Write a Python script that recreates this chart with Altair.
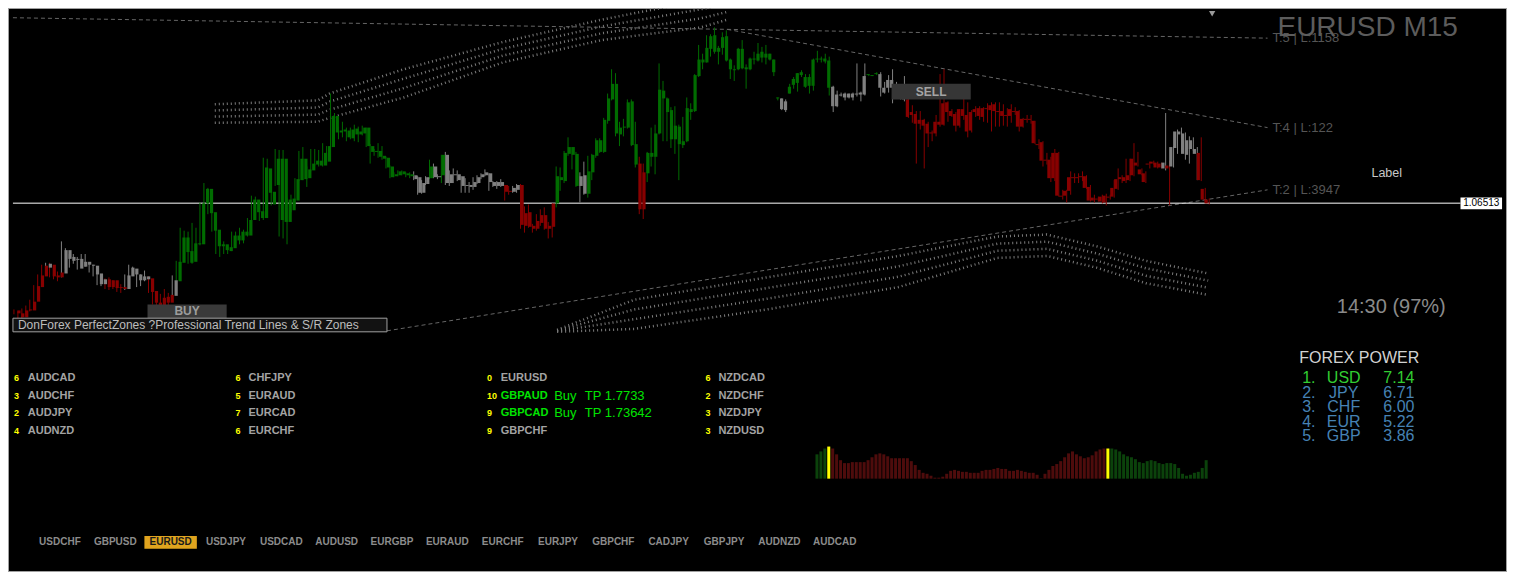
import altair as alt
import pandas as pd

W, H = 1499, 564
SX, SY = W / 1515.0, H / 580.0


def px(x):
    return x * SX


def py(y):
    return y * SY


SYMBOL = "EURUSD"
TIMEFRAME = "M15"
BID = 1.06513

# ---------------- candles (prices in units of 0.0001) ----------------
open_pips = [
    10541, 10538, 10541, 10542, 10550, 10566, 10577, 10587, 10589, 10588,
    10577, 10580, 10603, 10603, 10596, 10594, 10594, 10591, 10591, 10588,
    10587, 10579, 10573, 10573, 10572, 10572, 10565, 10565, 10577, 10585,
    10584, 10578, 10576, 10576, 10574, 10561, 10549, 10554, 10555, 10557,
    10572, 10571, 10590, 10601, 10590, 10591, 10609, 10609, 10651, 10666,
    10642, 10624, 10609, 10609, 10602, 10605, 10613, 10613, 10618, 10618,
    10634, 10655, 10643, 10636, 10687, 10663, 10670, 10697, 10632, 10655,
    10644, 10654, 10675, 10697, 10677, 10685, 10691, 10695, 10690, 10694,
    10709, 10741, 10724, 10725, 10726, 10718, 10722, 10725, 10723, 10729,
    10710, 10705, 10705, 10700, 10698, 10689, 10681, 10680, 10684, 10682,
    10681, 10680, 10678, 10662, 10671, 10677, 10689, 10679, 10680, 10701,
    10672, 10681, 10681, 10679, 10670, 10670, 10668, 10672, 10678, 10680,
    10682, 10673, 10669, 10673, 10670, 10664, 10663, 10665, 10670, 10641,
    10627, 10628, 10625, 10631, 10639, 10628, 10627, 10651, 10678, 10674,
    10702, 10709, 10702, 10669, 10680, 10661, 10683, 10700, 10716, 10704,
    10736, 10758, 10774, 10722, 10729, 10729, 10756, 10712, 10692, 10645,
    10682, 10703, 10699, 10723, 10767, 10759, 10747, 10717, 10730, 10711,
    10715, 10748, 10746, 10782, 10799, 10796, 10810, 10824, 10807, 10811,
    10823, 10799, 10789, 10789, 10810, 10791, 10789, 10800, 10798, 10801,
    10805, 10799, 10799, 10759, 10759, 10747, 10764, 10773, 10775, 10783,
    10781, 10772, 10772, 10799, 10800, 10797, 10798, 10771, 10751, 10763,
    10760, 10764, 10760, 10764, 10763, 10763, 10783, 10783, 10784, 10784,
    10770, 10770, 10778, 10772, 10768, 10766, 10758, 10745, 10743, 10737,
    10737, 10733, 10724, 10723, 10735, 10732, 10755, 10746, 10743, 10731,
    10748, 10742, 10726, 10745, 10749, 10740, 10749, 10747, 10753, 10746,
    10746, 10742, 10741, 10746, 10746, 10730, 10738, 10738, 10736, 10712,
    10714, 10696, 10696, 10677, 10703, 10659, 10659, 10664, 10678, 10678,
    10679, 10679, 10668, 10654, 10656, 10658, 10652, 10658, 10658, 10666,
    10676, 10678, 10675, 10680, 10693, 10686, 10682, 10692, 10692, 10693,
    10688, 10687, 10690, 10689, 10708, 10725, 10723, 10701, 10716, 10707,
    10703, 10666, 10655]

high_pips = [
    10542, 10540, 10543, 10546, 10552, 10567, 10578, 10588, 10590, 10590,
    10582, 10581, 10612, 10605, 10599, 10599, 10596, 10599, 10599, 10590,
    10588, 10585, 10575, 10574, 10575, 10572, 10567, 10568, 10578, 10588,
    10586, 10581, 10578, 10582, 10576, 10562, 10553, 10558, 10563, 10559,
    10577, 10592, 10626, 10623, 10622, 10631, 10626, 10652, 10672, 10667,
    10647, 10625, 10609, 10612, 10608, 10622, 10622, 10626, 10624, 10636,
    10659, 10658, 10648, 10698, 10697, 10670, 10707, 10706, 10706, 10657,
    10660, 10677, 10705, 10709, 10689, 10707, 10707, 10706, 10713, 10710,
    10764, 10744, 10730, 10735, 10729, 10729, 10732, 10730, 10731, 10729,
    10712, 10707, 10713, 10710, 10699, 10690, 10683, 10685, 10685, 10683,
    10683, 10684, 10679, 10675, 10679, 10696, 10692, 10681, 10701, 10704,
    10685, 10687, 10685, 10679, 10677, 10673, 10678, 10680, 10682, 10686,
    10682, 10674, 10674, 10676, 10670, 10669, 10669, 10671, 10671, 10648,
    10650, 10630, 10640, 10645, 10647, 10632, 10651, 10689, 10688, 10705,
    10719, 10709, 10704, 10683, 10694, 10700, 10702, 10718, 10718, 10739,
    10764, 10789, 10785, 10735, 10738, 10758, 10758, 10735, 10699, 10692,
    10704, 10729, 10732, 10795, 10777, 10760, 10750, 10751, 10732, 10740,
    10760, 10754, 10784, 10814, 10805, 10824, 10825, 10832, 10813, 10827,
    10829, 10800, 10793, 10811, 10819, 10794, 10801, 10807, 10816, 10812,
    10814, 10805, 10799, 10760, 10759, 10758, 10774, 10781, 10785, 10788,
    10784, 10784, 10800, 10808, 10802, 10805, 10802, 10772, 10767, 10765,
    10765, 10764, 10765, 10795, 10766, 10795, 10784, 10783, 10786, 10786,
    10776, 10783, 10789, 10776, 10772, 10782, 10762, 10752, 10746, 10746,
    10738, 10735, 10726, 10742, 10784, 10789, 10756, 10748, 10745, 10748,
    10759, 10755, 10747, 10751, 10751, 10750, 10754, 10755, 10755, 10755,
    10753, 10749, 10753, 10750, 10747, 10739, 10742, 10742, 10736, 10717,
    10715, 10703, 10699, 10707, 10704, 10665, 10665, 10684, 10682, 10682,
    10684, 10680, 10670, 10660, 10658, 10660, 10661, 10660, 10675, 10687,
    10680, 10697, 10697, 10713, 10704, 10687, 10684, 10694, 10695, 10694,
    10693, 10744, 10695, 10710, 10727, 10729, 10724, 10720, 10719, 10709,
    10719, 10667, 10656]

low_pips = [
    10537, 10533, 10533, 10536, 10540, 10549, 10564, 10575, 10583, 10575,
    10573, 10571, 10575, 10584, 10585, 10589, 10583, 10585, 10586, 10580,
    10576, 10567, 10566, 10563, 10562, 10563, 10560, 10559, 10562, 10575,
    10577, 10565, 10566, 10571, 10559, 10547, 10545, 10545, 10548, 10546,
    10555, 10569, 10589, 10598, 10589, 10589, 10604, 10608, 10650, 10640,
    10622, 10599, 10596, 10599, 10599, 10602, 10607, 10609, 10610, 10617,
    10633, 10640, 10633, 10634, 10647, 10649, 10669, 10617, 10615, 10609,
    10642, 10649, 10674, 10675, 10668, 10684, 10690, 10689, 10689, 10693,
    10708, 10721, 10717, 10719, 10715, 10717, 10715, 10714, 10721, 10709,
    10692, 10700, 10698, 10696, 10687, 10677, 10678, 10679, 10680, 10678,
    10677, 10675, 10660, 10661, 10670, 10676, 10677, 10676, 10672, 10670,
    10669, 10672, 10674, 10662, 10662, 10662, 10665, 10671, 10676, 10679,
    10664, 10668, 10666, 10668, 10654, 10660, 10662, 10662, 10625, 10621,
    10626, 10621, 10623, 10628, 10624, 10615, 10616, 10647, 10664, 10672,
    10700, 10686, 10668, 10652, 10660, 10657, 10675, 10698, 10703, 10703,
    10733, 10757, 10720, 10710, 10720, 10728, 10710, 10688, 10640, 10635,
    10673, 10689, 10681, 10722, 10715, 10715, 10708, 10702, 10675, 10708,
    10714, 10737, 10745, 10781, 10789, 10796, 10802, 10805, 10794, 10804,
    10797, 10779, 10777, 10788, 10789, 10769, 10788, 10794, 10797, 10796,
    10794, 10798, 10782, 10757, 10747, 10745, 10764, 10769, 10766, 10781,
    10770, 10764, 10767, 10796, 10796, 10795, 10762, 10745, 10750, 10761,
    10757, 10759, 10757, 10761, 10756, 10762, 10782, 10782, 10783, 10761,
    10764, 10765, 10754, 10762, 10758, 10756, 10739, 10734, 10692, 10727,
    10687, 10709, 10715, 10720, 10730, 10731, 10735, 10740, 10725, 10729,
    10737, 10719, 10724, 10740, 10737, 10735, 10734, 10725, 10730, 10730,
    10731, 10730, 10734, 10742, 10725, 10729, 10734, 10733, 10712, 10707,
    10689, 10691, 10673, 10674, 10658, 10655, 10652, 10660, 10672, 10672,
    10674, 10666, 10653, 10652, 10653, 10651, 10649, 10655, 10657, 10665,
    10672, 10672, 10674, 10679, 10689, 10680, 10672, 10687, 10691, 10687,
    10687, 10685, 10649, 10688, 10702, 10718, 10696, 10692, 10705, 10675,
    10674, 10652, 10650]

close_pips = [
    10538, 10534, 10534, 10541, 10541, 10550, 10565, 10576, 10585, 10576,
    10575, 10575, 10579, 10594, 10592, 10593, 10584, 10586, 10588, 10587,
    10578, 10568, 10568, 10565, 10565, 10564, 10564, 10563, 10563, 10576,
    10578, 10572, 10572, 10573, 10560, 10549, 10546, 10546, 10549, 10549,
    10556, 10591, 10616, 10616, 10602, 10610, 10610, 10651, 10666, 10641,
    10623, 10607, 10607, 10603, 10606, 10618, 10618, 10622, 10622, 10634,
    10655, 10642, 10636, 10688, 10662, 10650, 10697, 10634, 10697, 10632,
    10656, 10676, 10697, 10676, 10686, 10692, 10695, 10690, 10703, 10710,
    10741, 10724, 10726, 10727, 10719, 10727, 10728, 10722, 10729, 10710,
    10704, 10704, 10699, 10697, 10688, 10678, 10679, 10684, 10681, 10680,
    10679, 10676, 10662, 10672, 10678, 10689, 10678, 10678, 10701, 10672,
    10681, 10680, 10675, 10669, 10669, 10668, 10673, 10678, 10681, 10683,
    10673, 10669, 10673, 10669, 10663, 10663, 10667, 10670, 10629, 10628,
    10642, 10625, 10633, 10639, 10625, 10625, 10651, 10679, 10675, 10703,
    10709, 10701, 10669, 10679, 10661, 10684, 10701, 10716, 10704, 10737,
    10759, 10774, 10723, 10729, 10730, 10755, 10711, 10691, 10645, 10683,
    10703, 10699, 10723, 10768, 10759, 10745, 10717, 10731, 10712, 10715,
    10749, 10745, 10783, 10799, 10796, 10811, 10823, 10807, 10811, 10822,
    10798, 10789, 10788, 10810, 10790, 10789, 10800, 10799, 10805, 10807,
    10801, 10805, 10786, 10760, 10748, 10756, 10771, 10779, 10785, 10786,
    10771, 10781, 10799, 10800, 10799, 10800, 10770, 10751, 10763, 10762,
    10764, 10760, 10764, 10763, 10765, 10782, 10784, 10782, 10785, 10770,
    10765, 10778, 10770, 10764, 10760, 10758, 10740, 10742, 10733, 10733,
    10731, 10723, 10723, 10735, 10732, 10754, 10745, 10741, 10731, 10748,
    10741, 10725, 10745, 10748, 10741, 10749, 10748, 10752, 10746, 10745,
    10741, 10741, 10748, 10745, 10730, 10738, 10737, 10737, 10713, 10711,
    10695, 10695, 10677, 10703, 10659, 10658, 10664, 10678, 10677, 10677,
    10678, 10667, 10654, 10657, 10655, 10653, 10659, 10657, 10667, 10676,
    10678, 10674, 10680, 10697, 10690, 10681, 10673, 10691, 10694, 10688,
    10692, 10693, 10687, 10709, 10725, 10722, 10702, 10716, 10707, 10702,
    10675, 10655, 10651]

# trend state of each candle: u = up (green), d = down (red), n = neutral (grey)
trend_runs = [("d", 8), ("n", 1), ("d", 3), ("n", 11), ("d", 5), ("n", 6), ("d", 6),
              ("n", 1), ("u", 60), ("n", 4), ("u", 1), ("n", 2), ("u", 1), ("n", 15),
              ("d", 2), ("n", 2), ("d", 9), ("u", 6), ("n", 2), ("u", 13), ("d", 2),
              ("u", 34), ("n", 2), ("u", 11), ("n", 9), ("u", 3), ("n", 7), ("d", 65),
              ("n", 1), ("d", 1), ("n", 7), ("d", 3)]

# ---------------- histogram indicator (last 100 bars) ----------------
hist_values = [25, 28, 31, 33, 31, 25, 19, 16, 16, 17,
               17, 17, 17, 19, 22, 25, 26, 25, 23, 21,
               21, 21, 21, 21, 18, 14, 9, 6, 5, 3,
               1, 1, 2, 5, 8, 9, 8, 7, 7, 6,
               6, 6, 8, 9, 9, 10, 11, 10, 10, 8,
               8, 9, 8, 7, 6, 6, 4, 0.5, 5, 9,
               13, 15, 18, 22, 26, 28, 25, 23, 21, 22,
               24, 28, 30, 31, 31, 31, 30, 28, 25, 23,
               22, 20, 17, 16, 18, 19, 18, 16, 15, 16,
               16, 15, 11, 5, 3, 4, 6, 7, 11, 19]
hist_runs = [("u", 3), ("y", 1), ("d", 70), ("y", 1), ("u", 25)]

# ---------------- zones and trend lines ----------------
upper_zone_i = [50.75, 76.75, 79.75, 98.5, 123.5, 148.5, 173.5, 180.25]
upper_zone_top = [1.0753, 1.0757, 1.0764, 1.0789, 1.0817, 1.0840, 1.0860, 1.0864]
upper_zone_bot = [1.0734, 1.0735, 1.0739, 1.0760, 1.0796, 1.0819, 1.0832, 1.0840]
lower_zone_i = [137.25, 156.75, 190.25, 223.5, 248.5, 261.0, 273.5, 286.0, 301.75]
lower_zone_top = [1.0521, 1.0552, 1.0575, 1.0597, 1.0617, 1.0619, 1.0607, 1.0592, 1.0579]
lower_zone_bot = [1.0519, 1.0522, 1.0542, 1.0565, 1.0595, 1.0597, 1.0585, 1.0569, 1.0557]

tl_touches = [5, 4, 2]
tl_length = [1158, 122, 3947]
tl_start_i = [-0.25, 180.25, 94.25]
tl_start_p = [1.0842, 1.0830, 1.0520]
tl_end_i = [316.75, 316.75, 316.75]
tl_end_p = [1.0821, 1.0729, 1.0665]

# ---------------- panel texts ----------------
pair_cols = [["AUDCAD", "AUDCHF", "AUDJPY", "AUDNZD"],
             ["CHFJPY", "EURAUD", "EURCAD", "EURCHF"],
             ["EURUSD", "GBPAUD", "GBPCAD", "GBPCHF"],
             ["NZDCAD", "NZDCHF", "NZDJPY", "NZDUSD"]]
pair_scores = [[6, 3, 2, 4], [6, 5, 7, 6], [0, 10, 9, 9], [6, 2, 3, 3]]
signal_pairs = ["GBPAUD", "GBPCAD"]
signal_dir = ["Buy", "Buy"]
signal_tp = [1.7733, 1.73642]

button_pairs = ["USDCHF", "GBPUSD", "EURUSD", "USDJPY", "USDCAD", "AUDUSD", "EURGBP",
                "EURAUD", "EURCHF", "EURJPY", "GBPCHF", "CADJPY", "GBPJPY", "AUDNZD", "AUDCAD"]

power_currencies = ["USD", "JPY", "CHF", "EUR", "GBP"]
power_values = [7.14, 6.71, 6.00, 5.22, 3.86]

candle_time_left = "14:30"
candle_pct = 97

# ---------------- styles ----------------
SANS = "Liberation Sans, Arial, sans-serif"
CANDLE_COL = {"u": "#006c00", "d": "#880000", "n": "#808080"}
HIST_COL = {"u": "#0b420b", "d": "#4e0c0c", "y": "#ffff00"}

xs = alt.Scale(domain=[-1.5, 377.25], nice=False, zero=False)
ys = alt.Scale(domain=[1.0272, 1.0852], nice=False, zero=False)


def XQ(f):
    return alt.X(f, type="quantitative", scale=xs, axis=None)


def YQ(f):
    return alt.Y(f, type="quantitative", scale=ys, axis=None)


PXX = alt.X("x:Q", scale=None, axis=None)
PXY = alt.Y("y:Q", scale=None, axis=None)
COLV = alt.Color("c:N", scale=None, legend=None)

# ---------------- tables ----------------
n = len(open_pips)
assert len(high_pips) == n and len(low_pips) == n and len(close_pips) == n
trend = [c for c, k in trend_runs for _ in range(k)]
assert len(trend) == n
cd = pd.DataFrame({
    "i": list(range(n)),
    "o": [v / 1e4 for v in open_pips],
    "h": [v / 1e4 for v in high_pips],
    "l": [v / 1e4 for v in low_pips],
    "cl": [v / 1e4 for v in close_pips],
    "c": [CANDLE_COL[t] for t in trend],
})
cd["blo"] = cd[["o", "cl"]].min(axis=1)
cd["bhi"] = cd[["o", "cl"]].max(axis=1)

hist_state = [c for c, k in hist_runs for _ in range(k)]
hd = pd.DataFrame({
    "i": [n - len(hist_values) + k for k in range(len(hist_values))],
    "v": hist_values,
    "c": [HIST_COL[s] for s in hist_state],
})

zone_rows = []
ROWS = 4
for name, zi, zt, zb in [("up", upper_zone_i, upper_zone_top, upper_zone_bot),
                         ("lo", lower_zone_i, lower_zone_top, lower_zone_bot)]:
    for r in range(ROWS):
        for a, t, b in zip(zi, zt, zb):
            zone_rows.append({"key": f"{name}{r}", "i": a, "p": t + (b - t) * r / (ROWS - 1)})
zd = pd.DataFrame(zone_rows)

tl_rows = []
for k in range(3):
    tl_rows.append({"key": k, "i": tl_start_i[k], "p": tl_start_p[k]})
    tl_rows.append({"key": k, "i": tl_end_i[k], "p": tl_end_p[k]})
tld = pd.DataFrame(tl_rows)
tll = pd.DataFrame({"i": tl_end_i, "p": tl_end_p,
                    "t": [f"T:{a} | L:{b}" for a, b in zip(tl_touches, tl_length)]})

one = pd.DataFrame({"a": [0]})


def box(x1, y1, x2, y2, **kw):
    return alt.Chart(one).mark_rect(**kw).encode(
        x=alt.value(px(x1)), x2=alt.value(px(x2)), y=alt.value(py(y1)), y2=alt.value(py(y2)))


def label(text, x, y, **kw):
    d = pd.DataFrame({"x": [px(x)], "y": [py(y)], "t": [text]})
    return alt.Chart(d).mark_text(baseline="middle", **kw).encode(x=PXX, y=PXY, text="t:N")


layers = []

# zones (dotted bands)
layers.append(alt.Chart(zd).mark_line(strokeDash=[1, 3], strokeWidth=2.5, color="#7c7c7c", clip=True)
              .encode(x=XQ("i"), y=YQ("p"), detail="key:N"))
# trend lines
layers.append(alt.Chart(tld).mark_line(strokeDash=[4, 3], strokeWidth=1, color="#666666", clip=True)
              .encode(x=XQ("i"), y=YQ("p"), detail="key:N"))
layers.append(alt.Chart(tll).mark_text(align="left", baseline="middle", dx=5 * SX, font=SANS,
                                       fontSize=13, color="#555555")
              .encode(x=XQ("i"), y=YQ("p"), text="t:N"))
# bid line
layers.append(alt.Chart(pd.DataFrame({"p": [BID]})).mark_rule(color="#ffffff", strokeWidth=1)
              .encode(y=YQ("p"), x=alt.value(px(5)), x2=alt.value(px(1468))))
# candles
layers.append(alt.Chart(cd).mark_rule(strokeWidth=1).encode(x=XQ("i"), y=YQ("l"), y2="h:Q", color=COLV))
layers.append(alt.Chart(cd).mark_bar(size=3.2).encode(x=XQ("i"), y=YQ("blo"), y2="bhi:Q", color=COLV))

# histogram
layers.append(alt.Chart(hd).mark_bar(size=3).encode(
    x=XQ("i"),
    y=alt.Y("v:Q", scale=alt.Scale(domain=[0, 33], range=[py(484), py(451)], nice=False), axis=None),
    color=COLV))

# price tag
layers.append(box(1468, 195, 1510, 207, fill="#ffffff"))
layers.append(label(f"{BID:.5f}", 1489, 201, align="center", font=SANS, fontSize=10, color="#000000"))

# BUY / SELL boxes
layers.append(box(141, 305, 221, 319, fill="#3a3a3a"))
layers.append(label("BUY", 181, 312, align="center", font=SANS, fontSize=12, fontWeight="bold", color="#9c9c9c"))
layers.append(box(893, 78, 973, 94, fill="#363636"))
layers.append(label("SELL", 933, 86, align="center", font=SANS, fontSize=12, fontWeight="bold", color="#a4a4a4"))

# indicator name box
layers.append(box(5, 319, 383, 333, fill="#121212", stroke="#a0a0a0", strokeWidth=1))
layers.append(label("DonForex PerfectZones ?Professional Trend Lines & S/R Zones", 10, 326,
                    align="left", font=SANS, fontSize=12, color="#bdbdbd"))

# symbol, timer, label
layers.append(label(f"{SYMBOL} {TIMEFRAME}", 1283, 21, align="left", font=SANS, fontSize=28, color="#5c5c5c"))
layers.append(label(f"{candle_time_left} ({candle_pct}%)", 1343, 307, align="left", font=SANS,
                    fontSize=20, color="#8a8a8a"))
layers.append(label("Label", 1378, 170, align="left", font=SANS, fontSize=12.5, color="#c8c8c8"))
layers.append(alt.Chart(one).mark_point(shape="triangle-down", filled=True, size=40, color="#9a9a9a",
                                        opacity=1).encode(x=alt.value(px(1217)), y=alt.value(py(6))))

# pair list
name_x = [20, 243, 498, 718]
num_x = [6, 230, 484, 705]
rows_names, rows_nums, rows_sig = [], [], []
for ci, col in enumerate(pair_cols):
    for ri, pr in enumerate(col):
        y = py(381 + 18 * ri)
        green = pr in signal_pairs
        rows_names.append({"x": px(name_x[ci]), "y": y, "t": pr, "c": "#00e400" if green else "#a3a3a3"})
        rows_nums.append({"x": px(num_x[ci]), "y": y, "t": str(pair_scores[ci][ri])})
        if green:
            k = signal_pairs.index(pr)
            rows_sig.append({"x": px(552), "y": y, "t": signal_dir[k]})
            rows_sig.append({"x": px(583), "y": y, "t": f"TP {signal_tp[k]}"})
layers.append(alt.Chart(pd.DataFrame(rows_names)).mark_text(align="left", baseline="middle", font=SANS,
                                                             fontSize=11, fontWeight="bold")
              .encode(x=PXX, y=PXY, text="t:N", color=COLV))
layers.append(alt.Chart(pd.DataFrame(rows_nums)).mark_text(align="left", baseline="middle", font=SANS,
                                                            fontSize=9, fontWeight="bold", color="#ffff00")
              .encode(x=PXX, y=PXY, text="t:N"))
layers.append(alt.Chart(pd.DataFrame(rows_sig)).mark_text(align="left", baseline="middle", font=SANS,
                                                           fontSize=13, color="#00e400")
              .encode(x=PXX, y=PXY, text="t:N"))

# forex power
layers.append(label("FOREX POWER", 1305, 360, align="left", font=SANS, fontSize=16, color="#d2d2d2"))
fp = []
for k, (cur, val) in enumerate(zip(power_currencies, power_values)):
    col = "#32cd32" if k == 0 else "#4682b4"
    y = py(380.5 + 15 * k)
    fp.append({"x": px(1308), "y": y, "t": f"{k + 1}.", "c": col, "a": "l"})
    fp.append({"x": px(1350), "y": y, "t": cur, "c": col, "a": "c"})
    fp.append({"x": px(1390), "y": y, "t": f"{val:.2f}", "c": col, "a": "l"})
fpd = pd.DataFrame(fp)
layers.append(alt.Chart(fpd[fpd.a == "l"]).mark_text(align="left", baseline="middle", font=SANS, fontSize=16)
              .encode(x=PXX, y=PXY, text="t:N", color=COLV))
layers.append(alt.Chart(fpd[fpd.a == "c"]).mark_text(align="center", baseline="middle", font=SANS, fontSize=16)
              .encode(x=PXX, y=PXY, text="t:N", color=COLV))

# symbol buttons
act = button_pairs.index(SYMBOL)
bx0, bdx = 52.5, 55.93
layers.append(box(bx0 + bdx * act - 26.5, 543, bx0 + bdx * act + 26.5, 556, fill="#e0a41e"))
bd = pd.DataFrame({"x": [px(bx0 + bdx * k) for k in range(len(button_pairs))],
                   "y": [py(549.5)] * len(button_pairs),
                   "t": button_pairs,
                   "c": ["#1a1a1a" if p == SYMBOL else "#8c8c8c" for p in button_pairs]})
layers.append(alt.Chart(bd).mark_text(align="center", baseline="middle", font=SANS, fontSize=10,
                                      fontWeight="bold")
              .encode(x=PXX, y=PXY, text="t:N", color=COLV))

chart = (alt.layer(*layers)
         .resolve_scale(y="independent", x="independent", color="independent")
         .properties(width=W, height=H, padding=0,
                     autosize=alt.AutoSizeParams(type="none"),
                     background="#000000")
         .configure_view(stroke="#a0a0a0", strokeWidth=2, fill="#000000"))

chart.save("out.html", embed_options={"renderer": "svg", "actions": False})
